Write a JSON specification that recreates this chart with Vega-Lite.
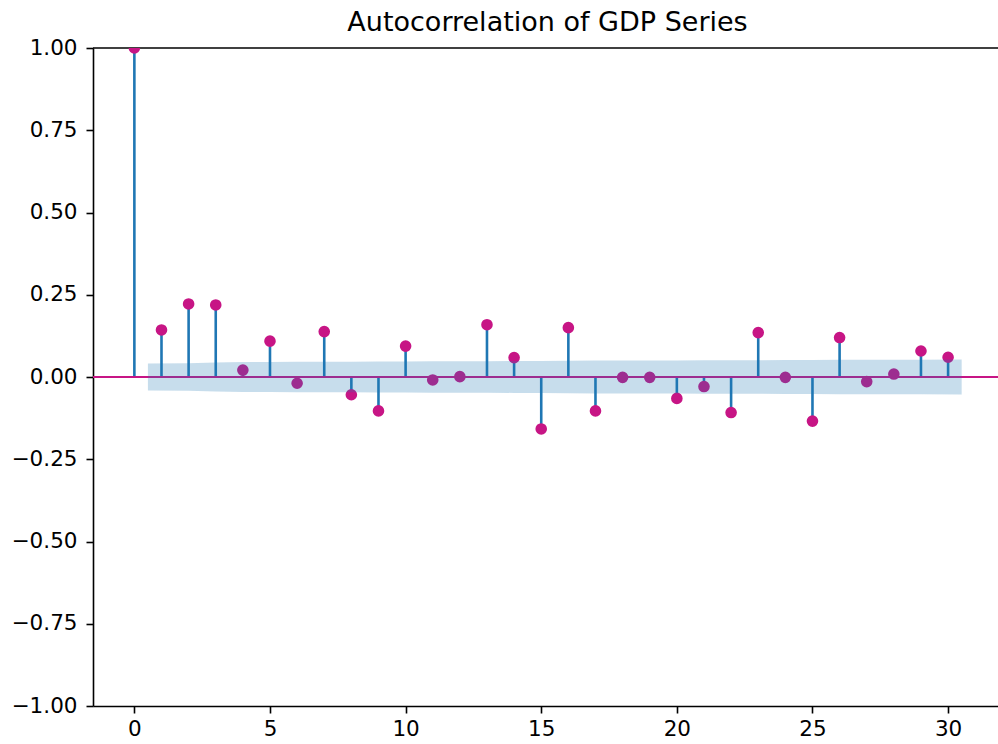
{
  "$schema": "https://vega.github.io/schema/vega-lite/v6.json",
  "autosize": "none",
  "padding": {"left": 93, "top": 48, "right": 0, "bottom": 38},
  "width": 905,
  "height": 658,
  "background": "white",
  "title": {
    "text": "Autocorrelation of GDP Series",
    "font": "DejaVu Sans",
    "fontSize": 27,
    "fontWeight": "normal",
    "color": "#000000",
    "anchor": "middle",
    "frame": "group",
    "baseline": "alphabetic",
    "offset": 15,
    "dx": 2,
    "dy": 36
  },
  "config": {
    "view": {"stroke": null},
    "axis": {
      "grid": false,
      "domainColor": "#000000",
      "domainWidth": 1.6,
      "tickColor": "#000000",
      "tickWidth": 1.6,
      "tickSize": 7,
      "labelFont": "DejaVu Sans",
      "labelFontSize": 21.5,
      "labelColor": "#000000",
      "title": null
    }
  },
  "datasets": {
    "acf": [
      {"lag": 0, "acf": 1.0},
      {"lag": 1, "acf": 0.143},
      {"lag": 2, "acf": 0.222},
      {"lag": 3, "acf": 0.219},
      {"lag": 4, "acf": 0.021},
      {"lag": 5, "acf": 0.109},
      {"lag": 6, "acf": -0.019},
      {"lag": 7, "acf": 0.138},
      {"lag": 8, "acf": -0.054},
      {"lag": 9, "acf": -0.103},
      {"lag": 10, "acf": 0.094},
      {"lag": 11, "acf": -0.009},
      {"lag": 12, "acf": 0.001},
      {"lag": 13, "acf": 0.159},
      {"lag": 14, "acf": 0.059},
      {"lag": 15, "acf": -0.158},
      {"lag": 16, "acf": 0.15},
      {"lag": 17, "acf": -0.103},
      {"lag": 18, "acf": -0.001},
      {"lag": 19, "acf": -0.001},
      {"lag": 20, "acf": -0.065},
      {"lag": 21, "acf": -0.029},
      {"lag": 22, "acf": -0.108},
      {"lag": 23, "acf": 0.135},
      {"lag": 24, "acf": -0.001},
      {"lag": 25, "acf": -0.134},
      {"lag": 26, "acf": 0.12},
      {"lag": 27, "acf": -0.014},
      {"lag": 28, "acf": 0.009},
      {"lag": 29, "acf": 0.079},
      {"lag": 30, "acf": 0.06}
    ],
    "band": [
      {"lag": 0.5, "lo": -0.041, "hi": 0.041},
      {"lag": 2, "lo": -0.0418, "hi": 0.0418},
      {"lag": 3, "lo": -0.0438, "hi": 0.0438},
      {"lag": 4, "lo": -0.0456, "hi": 0.0456},
      {"lag": 5, "lo": -0.0456, "hi": 0.0456},
      {"lag": 6, "lo": -0.046, "hi": 0.046},
      {"lag": 7, "lo": -0.046, "hi": 0.046},
      {"lag": 8, "lo": -0.0467, "hi": 0.0467},
      {"lag": 9, "lo": -0.0468, "hi": 0.0468},
      {"lag": 10, "lo": -0.0472, "hi": 0.0472},
      {"lag": 11, "lo": -0.0475, "hi": 0.0475},
      {"lag": 12, "lo": -0.0475, "hi": 0.0475},
      {"lag": 13, "lo": -0.0475, "hi": 0.0475},
      {"lag": 14, "lo": -0.0484, "hi": 0.0484},
      {"lag": 15, "lo": -0.0485, "hi": 0.0485},
      {"lag": 16, "lo": -0.0494, "hi": 0.0494},
      {"lag": 17, "lo": -0.0502, "hi": 0.0502},
      {"lag": 18, "lo": -0.0505, "hi": 0.0505},
      {"lag": 19, "lo": -0.0505, "hi": 0.0505},
      {"lag": 20, "lo": -0.0505, "hi": 0.0505},
      {"lag": 21, "lo": -0.0507, "hi": 0.0507},
      {"lag": 22, "lo": -0.0507, "hi": 0.0507},
      {"lag": 23, "lo": -0.0511, "hi": 0.0511},
      {"lag": 24, "lo": -0.0517, "hi": 0.0517},
      {"lag": 25, "lo": -0.0517, "hi": 0.0517},
      {"lag": 26, "lo": -0.0523, "hi": 0.0523},
      {"lag": 27, "lo": -0.0527, "hi": 0.0527},
      {"lag": 28, "lo": -0.0527, "hi": 0.0527},
      {"lag": 29, "lo": -0.0527, "hi": 0.0527},
      {"lag": 30.5, "lo": -0.0529, "hi": 0.0529}
    ]
  },
  "layer": [
    {
      "data": {"name": "acf"},
      "mark": {"type": "rule", "color": "#1f77b4", "strokeWidth": 2.6, "clip": true},
      "encoding": {
        "x": {
          "field": "lag", "type": "quantitative",
          "scale": {"domain": [-1.525, 31.84], "nice": false, "zero": false},
          "axis": {"values": [0, 5, 10, 15, 20, 25, 30], "labelPadding": 5, "labelFlush": false}
        },
        "y": {
          "field": "acf", "type": "quantitative",
          "scale": {"domain": [-1, 1], "nice": false},
          "axis": {"values": [-1, -0.75, -0.5, -0.25, 0, 0.25, 0.5, 0.75, 1], "format": ".2f", "labelPadding": 9}
        },
        "y2": {"datum": 0}
      }
    },
    {
      "data": {"values": [{}]},
      "mark": {"type": "rule", "color": "#C71585", "strokeWidth": 2.2, "clip": true},
      "encoding": {"y": {"datum": 0, "type": "quantitative"}}
    },
    {
      "data": {"values": [{}]},
      "mark": {"type": "rule", "color": "#000000", "strokeWidth": 1.6},
      "encoding": {"y": {"datum": 1, "type": "quantitative"}}
    },
    {
      "data": {"name": "acf"},
      "mark": {"type": "point", "filled": true, "color": "#C71585", "opacity": 1, "size": 135, "clip": true},
      "encoding": {
        "x": {"field": "lag", "type": "quantitative"},
        "y": {"field": "acf", "type": "quantitative"}
      }
    },
    {
      "data": {"name": "band"},
      "mark": {"type": "area", "color": "#1f77b4", "opacity": 0.25, "clip": true},
      "encoding": {
        "x": {"field": "lag", "type": "quantitative"},
        "y": {"field": "lo", "type": "quantitative"},
        "y2": {"field": "hi"}
      }
    }
  ]
}
